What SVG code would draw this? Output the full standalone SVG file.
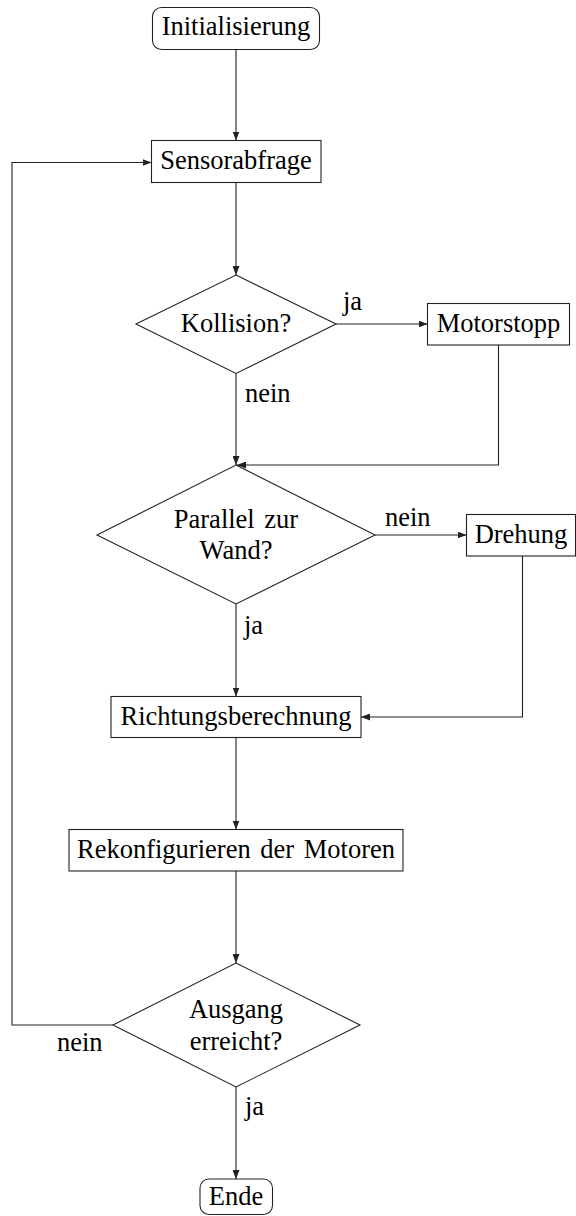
<svg xmlns="http://www.w3.org/2000/svg" width="576" height="1216" viewBox="0 0 576 1216">
<style>
.n{fill:#fff;stroke:#222;stroke-width:1.1}
.t{font-family:"Liberation Serif","Times New Roman",serif;font-size:26.5px;fill:#000;text-anchor:middle}
.l{font-family:"Liberation Serif","Times New Roman",serif;font-size:26.5px;fill:#000}
.c{fill:none;stroke:#222;stroke-width:1.1;marker-end:url(#ah)}
</style>
<defs>
<marker id="ah" markerUnits="userSpaceOnUse" markerWidth="9" markerHeight="7" refX="9" refY="3.5" orient="auto">
<path d="M0,0 L9,3.5 L0,7 Z" fill="#222"/>
</marker>
</defs>
<rect width="576" height="1216" fill="#fff"/>
<g id="connectors">
<path class="c" d="M236,49.5 V140.5"/>
<path class="c" d="M236,182.5 V275"/>
<path class="c" d="M336,324 H427.5"/>
<path class="c" d="M236,373.5 V465"/>
<path class="c" d="M498.5,345 V465 H237"/>
<path class="c" d="M375,535 H466.5"/>
<path class="c" d="M236,604 V696.5"/>
<path class="c" d="M522.5,556 V717 H361"/>
<path class="c" d="M236,737.5 V829.5"/>
<path class="c" d="M236,871 V963"/>
<path class="c" d="M236,1087 V1179"/>
<path class="c" d="M113,1025 H12 V162.5 H151.5"/>
</g>
<g id="initialisierung">
<rect class="n" x="152.5" y="7.5" width="167" height="42" rx="9"/>
<text class="t" x="236" y="35">Initialisierung</text>
</g>
<g id="sensorabfrage">
<rect class="n" x="151.5" y="140.5" width="169.5" height="42"/>
<text class="t" x="236" y="169">Sensorabfrage</text>
</g>
<g id="kollision">
<polygon class="n" points="236,275 336,324 236,373.5 136,324"/>
<text class="t" x="236" y="332">Kollision?</text>
</g>
<g id="motorstopp">
<rect class="n" x="427.5" y="303.5" width="142" height="41.5"/>
<text class="t" x="498.5" y="332">Motorstopp</text>
</g>
<g id="parallel">
<polygon class="n" points="236,465 375,535 236,604 97,535"/>
<text class="t" x="236" y="528" word-spacing="3">Parallel zur</text>
<text class="t" x="236" y="559">Wand?</text>
</g>
<g id="drehung">
<rect class="n" x="466.5" y="514.5" width="109" height="41.5"/>
<text class="t" x="521" y="543">Drehung</text>
</g>
<g id="richtungsberechnung">
<rect class="n" x="111" y="696.5" width="250" height="41"/>
<text class="t" x="236" y="725">Richtungsberechnung</text>
</g>
<g id="rekonfigurieren">
<rect class="n" x="69" y="829.5" width="334" height="41.5"/>
<text class="t" x="236" y="858" word-spacing="3">Rekonfigurieren der Motoren</text>
</g>
<g id="ausgang">
<polygon class="n" points="236,963 360,1025 236,1087 113,1025"/>
<text class="t" x="236" y="1018">Ausgang</text>
<text class="t" x="236" y="1050">erreicht?</text>
</g>
<g id="ende">
<rect class="n" x="200" y="1179" width="72.5" height="35.5" rx="9"/>
<text class="t" x="236" y="1205">Ende</text>
</g>
<g id="labels">
<text class="l" x="343" y="310">ja</text>
<text class="l" x="245" y="402">nein</text>
<text class="l" x="385" y="526">nein</text>
<text class="l" x="244" y="634">ja</text>
<text class="l" x="57" y="1051">nein</text>
<text class="l" x="245" y="1115">ja</text>
</g>
</svg>
